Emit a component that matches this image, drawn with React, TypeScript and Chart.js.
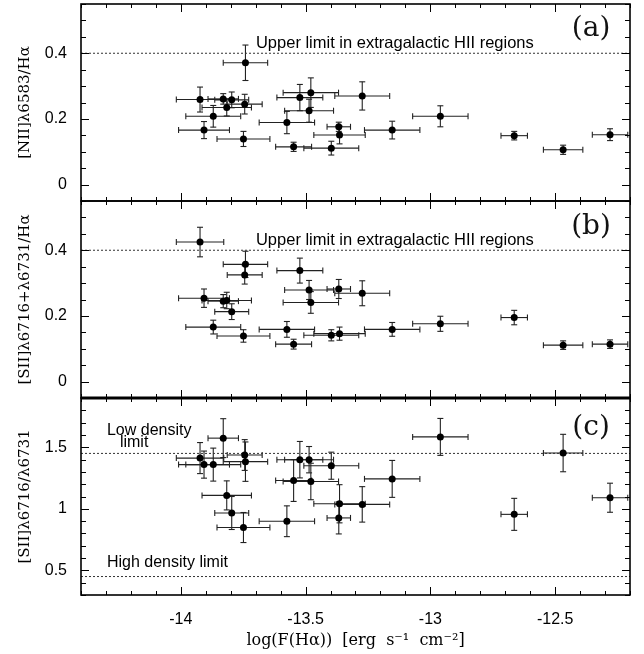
import React, { useEffect, useRef } from "react";
import { Chart, registerables } from "chart.js";

Chart.register(...registerables);

// ---- data (one entry per object, sorted by flux) ----
const logFluxHa = [-13.923, -13.907, -13.870, -13.830, -13.816, -13.796, -13.744, -13.741, -13.749, -13.575, -13.548, -13.523, -13.486, -13.479, -13.397, -13.367, -13.364, -13.273, -13.153, -12.96, -12.664, -12.468, -12.28];
const logFluxHaErr = [0.095, 0.102, 0.11, 0.061, 0.099, 0.068, 0.07, 0.089, 0.106, 0.111, 0.072, 0.092, 0.098, 0.111, 0.11, 0.047, 0.103, 0.11, 0.111, 0.111, 0.053, 0.079, 0.071];

const niiHa = [0.259, 0.166, 0.208, 0.261, 0.235, 0.258, 0.245, 0.371, 0.139, 0.189, 0.115, 0.265, 0.225, 0.28, 0.111, 0.176, 0.151, 0.27, 0.166, 0.208, 0.149, 0.106, 0.152];
const niiHaErr = [0.038, 0.026, 0.033, 0.016, 0.026, 0.024, 0.03, 0.054, 0.023, 0.034, 0.014, 0.04, 0.035, 0.045, 0.021, 0.014, 0.027, 0.043, 0.027, 0.032, 0.013, 0.014, 0.018];

const siiHa = [0.425, 0.254, 0.166, 0.245, 0.247, 0.213, 0.325, 0.357, 0.139, 0.159, 0.114, 0.338, 0.279, 0.241, 0.141, 0.282, 0.146, 0.269, 0.159, 0.176, 0.195, 0.111, 0.114];
const siiHaErr = [0.045, 0.028, 0.021, 0.02, 0.025, 0.024, 0.028, 0.04, 0.019, 0.024, 0.015, 0.038, 0.029, 0.033, 0.017, 0.029, 0.02, 0.038, 0.021, 0.023, 0.022, 0.013, 0.013];

const siiRatio = [1.412, 1.359, 1.359, 1.574, 1.109, 0.966, 1.437, 1.383, 0.848, 0.899, 1.23, 1.399, 1.399, 1.222, 1.35, 0.926, 1.041, 1.036, 1.243, 1.584, 0.955, 1.453, 1.09];
const siiRatioErr = [0.126, 0.11, 0.134, 0.158, 0.118, 0.134, 0.125, 0.16, 0.122, 0.125, 0.17, 0.148, 0.107, 0.148, 0.11, 0.13, 0.155, 0.144, 0.15, 0.15, 0.13, 0.152, 0.118];

const xTickValues = [-14, -13.5, -13, -12.5];
const yTicksA = [0, 0.2, 0.4];
const yTicksB = [0, 0.2, 0.4];
const yTicksC = [0.5, 1, 1.5];

const upperLimitHII = 0.4;
const lowDensityLimit = 1.45;
const highDensityLimit = 0.45;

const xTitle = "log(F(H\u03b1))  [erg  s\u207b\u00b9  cm\u207b\u00b2]";
const yTitleA = "[NII]\u03bb6583/H\u03b1";
const yTitleB = "[SII]\u03bb6716+\u03bb6731/H\u03b1";
const yTitleC = "[SII]\u03bb6716/\u03bb6731";
const upperLimitText = "Upper limit in extragalactic HII regions";
const lowDensityText = ["Low density", "limit"];
const highDensityText = "High density limit";
const panelLabels = ["(a)", "(b)", "(c)"];

const X_MIN = -14.4;
const X_MAX = -12.2;

const SANS = "'Liberation Sans', Arial, sans-serif";
const SERIF = "'DejaVu Serif', serif";

const panels = [
  { id: "ya", y: niiHa, e: niiHaErr, minor: 0.05, major: 0.2, labelY: 0.476 },
  { id: "yb", y: siiHa, e: siiHaErr, minor: 0.05, major: 0.2, labelY: 0.472 },
  { id: "yc", y: siiRatio, e: siiRatioErr, minor: 0.1, major: 0.5, labelY: 1.66 },
];

function line(ctx: CanvasRenderingContext2D, x0: number, y0: number, x1: number, y1: number) {
  ctx.beginPath();
  ctx.moveTo(x0, y0);
  ctx.lineTo(x1, y1);
  ctx.stroke();
}

const panelPlugin = {
  id: "panelPlugin",
  beforeDatasetsDraw(chart: any) {
    const ctx: CanvasRenderingContext2D = chart.ctx;
    const xs = chart.scales.x;
    ctx.save();
    ctx.strokeStyle = "#222";
    ctx.lineWidth = 1.1;
    const cap = 3;
    panels.forEach((p) => {
      const ys = chart.scales[p.id];
      logFluxHa.forEach((xv, i) => {
        const cx = xs.getPixelForValue(xv);
        const cy = ys.getPixelForValue(p.y[i]);
        const x0 = xs.getPixelForValue(xv - logFluxHaErr[i]);
        const x1 = xs.getPixelForValue(xv + logFluxHaErr[i]);
        const y0 = ys.getPixelForValue(p.y[i] + p.e[i]);
        const y1 = ys.getPixelForValue(p.y[i] - p.e[i]);
        line(ctx, x0, cy, x1, cy);
        line(ctx, x0, cy - cap, x0, cy + cap);
        line(ctx, x1, cy - cap, x1, cy + cap);
        line(ctx, cx, y0, cx, y1);
        line(ctx, cx - cap, y0, cx + cap, y0);
        line(ctx, cx - cap, y1, cx + cap, y1);
      });
    });
    ctx.restore();
  },
  afterDatasetsDraw(chart: any) {
    const ctx: CanvasRenderingContext2D = chart.ctx;
    const xs = chart.scales.x;
    const left = xs.left;
    const right = xs.right;
    ctx.save();
    ctx.strokeStyle = "#000";
    panels.forEach((p, idx) => {
      const ys = chart.scales[p.id];
      const top = ys.top;
      const bottom = ys.bottom;
      ctx.lineWidth = 1;
      // x ticks at top and bottom of each panel
      const k0 = Math.ceil(X_MIN * 10 - 1e-6);
      const k1 = Math.floor(X_MAX * 10 + 1e-6);
      for (let k = k0; k <= k1; k++) {
        const px = Math.round(xs.getPixelForValue(k / 10)) + 0.5;
        const len = k % 5 === 0 ? 8 : 4;
        line(ctx, px, bottom, px, bottom - len);
        line(ctx, px, top, px, top + len);
      }
      // y ticks left and right
      const n0 = Math.ceil(ys.min / p.minor - 1e-6);
      const n1 = Math.floor(ys.max / p.minor + 1e-6);
      for (let n = n0; n <= n1; n++) {
        const v = n * p.minor;
        const r = v / p.major;
        const isMajor = Math.abs(r - Math.round(r)) < 1e-6;
        const py = Math.round(ys.getPixelForValue(v)) + 0.5;
        const len = isMajor ? 8 : 5;
        line(ctx, left, py, left + len, py);
        line(ctx, right, py, right - len, py);
      }
      // frame
      ctx.lineWidth = 1.6;
      ctx.strokeRect(left, top, right - left, bottom - top);
      if (idx === 2) {
        ctx.lineWidth = 3;
        line(ctx, left, top, right, top);
      }

      // panel label
      ctx.fillStyle = "#111";
      ctx.font = `28px ${SERIF}`;
      ctx.textAlign = "center";
      ctx.textBaseline = "middle";
      ctx.fillText(panelLabels[idx], xs.getPixelForValue(-12.356), ys.getPixelForValue(p.labelY));

      ctx.fillStyle = "#000";
      ctx.textAlign = "left";
      ctx.textBaseline = "alphabetic";
      if (idx < 2) {
        ctx.font = `16.5px ${SANS}`;
        ctx.fillText(upperLimitText, xs.getPixelForValue(-13.699), ys.getPixelForValue(0.415));
      } else {
        ctx.font = `16px ${SANS}`;
        ctx.fillText(lowDensityText[0], xs.getPixelForValue(-14.296), ys.getPixelForValue(1.602));
        ctx.fillText(lowDensityText[1], xs.getPixelForValue(-14.244), ys.getPixelForValue(1.505));
        ctx.fillText(highDensityText, xs.getPixelForValue(-14.296), ys.getPixelForValue(0.53));
      }
    });
    ctx.restore();
  },
};

function refLine(yAxisID: string, y: number) {
  return {
    type: "line" as const,
    data: [
      { x: X_MIN, y },
      { x: X_MAX, y },
    ],
    yAxisID,
    xAxisID: "x",
    borderColor: "#333",
    borderWidth: 1,
    borderDash: [2, 2],
    pointRadius: 0,
    fill: false,
  };
}

function yScale(id: string, min: number, max: number, ticks: number[], title: string, weight: number) {
  return {
    type: "linear" as const,
    position: "left" as const,
    stack: "panels",
    stackWeight: 1,
    weight,
    min,
    max,
    afterBuildTicks: (s: any) => {
      s.ticks = ticks.map((v) => ({ value: v }));
    },
    afterFit: (s: any) => {
      s.width = 81;
      s.paddingTop = 0;
      s.paddingBottom = 0;
    },
    grid: { display: false, drawTicks: false },
    border: { display: false },
    ticks: {
      font: { family: SANS, size: 16 },
      color: "#000",
      padding: 14,
      callback: (v: any) => String(v),
    },
    title: {
      display: true,
      text: title,
      font: { family: SERIF, size: 15 },
      color: "#000",
      padding: { top: 16, bottom: 0 },
    },
  };
}

export default function App() {
  const canvasRef = useRef<HTMLCanvasElement | null>(null);

  useEffect(() => {
    if (!canvasRef.current) return;
    const datasets: any[] = panels.map((p) => ({
      type: "scatter",
      data: logFluxHa.map((x, i) => ({ x, y: p.y[i] })),
      yAxisID: p.id,
      xAxisID: "x",
      pointRadius: 3.5,
      pointBackgroundColor: "#000",
      pointBorderWidth: 0,
      showLine: false,
    }));
    datasets.push(refLine("ya", upperLimitHII));
    datasets.push(refLine("yb", upperLimitHII));
    datasets.push(refLine("yc", lowDensityLimit));
    datasets.push(refLine("yc", highDensityLimit));

    const chart = new Chart(canvasRef.current, {
      type: "scatter",
      data: { datasets },
      options: {
        animation: false,
        responsive: false,
        events: [],
        layout: { padding: { top: 3, right: 14, left: 0, bottom: 0 } },
        plugins: { legend: { display: false }, tooltip: { enabled: false } },
        scales: {
          x: {
            type: "linear",
            position: "bottom",
            min: X_MIN,
            max: X_MAX,
            afterBuildTicks: (s: any) => {
              s.ticks = xTickValues.map((v) => ({ value: v }));
            },
            afterFit: (s: any) => {
              s.height = 59;
              s.paddingLeft = 0;
              s.paddingRight = 0;
            },
            grid: { display: false, drawTicks: false },
            border: { display: false },
            ticks: {
              font: { family: SANS, size: 16 },
              color: "#000",
              padding: 15,
              maxRotation: 0,
              callback: (v: any) => String(v),
            },
            title: {
              display: true,
              text: xTitle,
              font: { family: SERIF, size: 16 },
              color: "#000",
              padding: { top: 0, bottom: 4 },
            },
          },
          ya: yScale("ya", -0.05, 0.55, yTicksA, yTitleA, 3),
          yb: yScale("yb", -0.05, 0.55, yTicksB, yTitleB, 2),
          yc: yScale("yc", 0.3, 1.9, yTicksC, yTitleC, 1),
        } as any,
      },
      plugins: [panelPlugin],
    } as any);
    return () => chart.destroy();
  }, []);

  return (
    <div style={{ position: "absolute", left: 0, top: 0, width: 644, height: 654, background: "#fff" }}>
      <canvas ref={canvasRef} width={644} height={654} style={{ display: "block" }} />
    </div>
  );
}
